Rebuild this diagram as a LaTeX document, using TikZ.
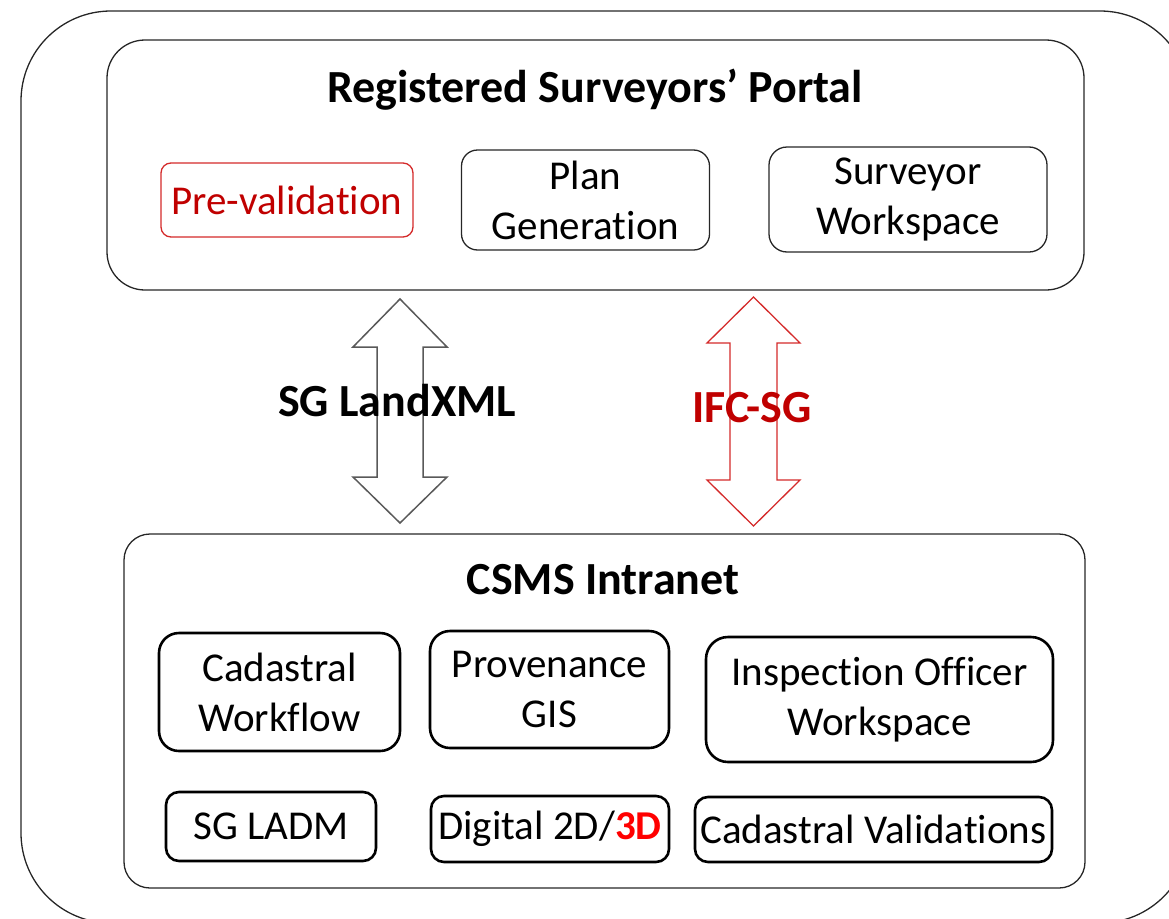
\documentclass[tikz,border=0pt]{standalone}
\usepackage{fontspec}
\setmainfont{Carlito}[Ligatures=NoCommon]
\definecolor{dred}{HTML}{C00000}
\definecolor{agray}{HTML}{595959}
\definecolor{ared}{HTML}{D42A2A}
\begin{document}
\begin{tikzpicture}[x=1pt,y=-1pt,
  thinbox/.style={draw=black!85,line width=1.3pt,rounded corners=#1,inner sep=0pt,align=center,font=\fontsize{41}{50}\selectfont},
  thickbox/.style={draw=black,line width=2.6pt,rounded corners=#1,inner sep=0pt,align=center,font=\fontsize{41}{50}\selectfont},
  heading/.style={font=\fontsize{46}{56}\selectfont\bfseries,inner sep=0pt},
  lbl/.style={font=\fontsize{46}{56}\selectfont\bfseries,inner sep=0pt}]
\useasboundingbox (0,0) rectangle (1169,918);
\begin{scope}
\clip (0,0) rectangle (1169,918);
\draw[line width=1.3pt,black!85,rounded corners=90pt] (21,11) rectangle (1190,923);
\end{scope}
% top portal
\draw[line width=1.3pt,black!85,rounded corners=38pt] (107,40) rectangle (1084,290);
\node[heading] (portal) at (595,90) {Registered Surveyors’ Portal};
\node[thinbox=10pt,draw=ared,text=dred,minimum width=252pt,minimum height=74pt] (pre) at (287,200) {Pre-validation};
\node[thinbox=16pt,minimum width=248pt,minimum height=100pt] (plan) at (585.5,200) {Plan\\Generation};
\node[thinbox=18pt,minimum width=278pt,minimum height=105pt] (sw) at (908,199.5) {Surveyor\\Workspace};
% arrows
\draw[line width=1.5pt,agray,line join=miter]
  (400,299) -- (447,347) -- (423,347) -- (423,477) -- (447,477) -- (400,523)
  -- (353,477) -- (377,477) -- (377,347) -- (353,347) -- cycle;
\draw[line width=1.3pt,ared,line join=miter]
  (753.5,297) -- (800,343) -- (777,343) -- (777,480) -- (800,480) -- (753.5,526)
  -- (707,480) -- (730,480) -- (730,343) -- (707,343) -- cycle;
\node[lbl] (landxml) at (397,401) {SG LandXML};
\node[lbl,text=dred] (ifc) at (752,408) {IFC-SG};
% bottom intranet
\draw[line width=1.3pt,black!85,rounded corners=26pt] (124,534) rectangle (1085,888);
\node[heading] (csms) at (603,580) {CSMS Intranet};
\node[thickbox=20pt,minimum width=241pt,minimum height=118pt] (cw) at (279.5,692) {Cadastral\\Workflow};
\node[thickbox=20pt,minimum width=239pt,minimum height=117pt] (pg) at (549.5,689.5) {Provenance\\GIS};
\node[thickbox=22pt,minimum width=347pt,minimum height=125pt] (io) at (879.5,699.5) {Inspection Officer\\Workspace};
\node[thickbox=13pt,minimum width=210pt,minimum height=69pt] (ladm) at (271,826.5) {SG LADM};
\node[thickbox=13pt,minimum width=238pt,minimum height=66pt] (dig) at (550,829) {Digital 2D/{\bfseries\color{red}3D}};
\node[thickbox=13pt,minimum width=357pt,minimum height=65pt] (cv) at (873.5,829.5) {Cadastral Validations};
\end{tikzpicture}
\end{document}
